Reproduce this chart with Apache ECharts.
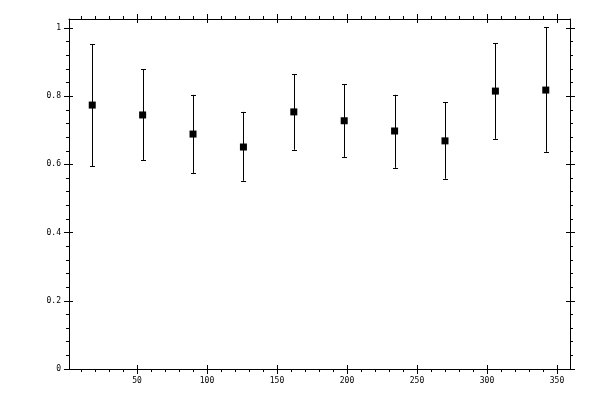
<!DOCTYPE html>
<html>
<head>
<meta charset="utf-8">
<script src="https://cdn.jsdelivr.net/npm/echarts@6/dist/echarts.min.js"></script>
<style>
html,body{margin:0;padding:0;background:#fff;}
#main{width:600px;height:400px;}
</style>
</head>
<body>
<div id="main"></div>
<script>
// data
var xValues=[18,54,90,126,162,198,234,270,306,342];
var yValues=[0.774,0.745,0.689,0.651,0.754,0.728,0.698,0.669,0.815,0.818];
var yHigh=[0.953,0.879,0.804,0.754,0.864,0.835,0.804,0.783,0.956,1.003];
var yLow=[0.594,0.613,0.575,0.552,0.643,0.622,0.590,0.558,0.675,0.637];

// tick labels
var xTicks=[50,100,150,200,250,300,350];
var yTicks=[0,0.2,0.4,0.6,0.8,1];

var xMin=1.4,xMax=359.3;
var yMin=0,yMax=1.0264;

// minor ticks every 10 on x, 0.04 on y
var xMinor=[];
for(var i=10;i<xMax;i+=10){ if(i%50!=0) xMinor.push(i); }
var yMinor=[];
for(var j=1;j*0.04<yMax;j++){ if(j%5!=0) yMinor.push(Math.round(j*0.04*100)/100); }

var font={fontFamily:'DejaVu Sans Mono',fontSize:8,color:'#000'};

// one grid per kind of tick: 0 = major outward + lines + labels, 1 = major inward, 2 = minor outward
function makeAxis(kind,pos,gridIdx,ticks,len,inside,showLine,showLabel){
	var ax={
		type:'value',
		gridIndex:gridIdx,
		position:pos,
		min:kind=='x'?xMin:yMin,
		max:kind=='x'?xMax:yMax,
		axisLine:{show:showLine,onZero:false,lineStyle:{color:'#000',width:1}},
		axisTick:{show:true,inside:inside,length:len,customValues:ticks,lineStyle:{color:'#000',width:1}},
		axisLabel:{show:false},
		splitLine:{show:false}
	};
	if(showLabel){
		ax.axisLabel={show:true,customValues:ticks,margin:8,
			fontFamily:font.fontFamily,fontSize:font.fontSize,color:font.color};
	}
	return ax;
}

var xData=[];
var errData=[];
xValues.forEach(function(x,idx){
	xData.push([x,yValues[idx]]);
	errData.push([x,yLow[idx],yHigh[idx]]);
});

var gridBox={left:69,right:30,top:19,bottom:31};

var dom=document.getElementById('main');
var myChart=echarts.init(dom,null,{renderer:'canvas'});
var option={
	animation:false,
	backgroundColor:'#fff',
	grid:[gridBox,gridBox,gridBox],
	xAxis:[
		makeAxis('x','bottom',0,xTicks,5,false,true,true),
		makeAxis('x','top',0,xTicks,5,false,true,false),
		makeAxis('x','bottom',1,xTicks,4,true,false,false),
		makeAxis('x','top',1,xTicks,4,true,false,false),
		makeAxis('x','bottom',2,xMinor,3,false,false,false),
		makeAxis('x','top',2,xMinor,3,false,false,false)
	],
	yAxis:[
		makeAxis('y','left',0,yTicks,5,false,true,true),
		makeAxis('y','right',0,yTicks,5,false,true,false),
		makeAxis('y','left',1,yTicks,4,true,false,false),
		makeAxis('y','right',1,yTicks,4,true,false,false),
		makeAxis('y','left',2,yMinor,3,false,false,false),
		makeAxis('y','right',2,yMinor,3,false,false,false)
	],
	series:[
		{
			type:'custom',
			xAxisIndex:0,
			yAxisIndex:0,
			data:errData,
			renderItem:function(params,api){
				var lo=api.coord([api.value(0),api.value(1)]);
				var hi=api.coord([api.value(0),api.value(2)]);
				var cx=Math.round(lo[0])+0.5;
				var capW=2.5;
				var st={stroke:'#000',lineWidth:1};
				return {
					type:'group',
					children:[
						{type:'line',shape:{x1:cx,y1:hi[1],x2:cx,y2:lo[1]},style:st},
						{type:'line',shape:{x1:cx-capW,y1:Math.round(hi[1])+0.5,x2:cx+capW,y2:Math.round(hi[1])+0.5},style:st},
						{type:'line',shape:{x1:cx-capW,y1:Math.round(lo[1])+0.5,x2:cx+capW,y2:Math.round(lo[1])+0.5},style:st}
					]
				};
			}
		},
		{
			type:'scatter',
			xAxisIndex:0,
			yAxisIndex:0,
			symbol:'rect',
			symbolSize:7,
			itemStyle:{color:'#000',opacity:1},
			data:xData
		}
	]
};
myChart.setOption(option,true);
</script>
</body>
</html>
